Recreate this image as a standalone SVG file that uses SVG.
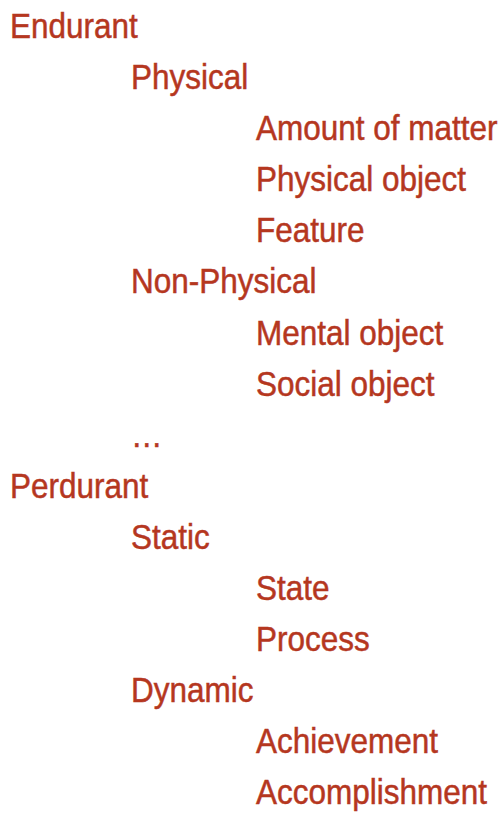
<svg xmlns="http://www.w3.org/2000/svg" width="501" height="813" viewBox="0 0 501 813">
<style>
text{font-family:"Liberation Sans",Arial,sans-serif;font-size:35px;fill:#b5371f;stroke:#b5371f;stroke-width:0.5}
</style>
<rect width="501" height="813" fill="#ffffff"/>
<g transform="scale(0.9,1)">
<g id="endurant"><text x="11.1" y="38">Endurant</text></g>
<g id="physical"><text x="145.6" y="89.1">Physical</text></g>
<g id="amount"><text x="284.4" y="140.2">Amount of matter</text></g>
<g id="physobj"><text x="284.4" y="191.3">Physical object</text></g>
<g id="feature"><text x="284.4" y="242.4">Feature</text></g>
<g id="nonphys"><text x="145.6" y="293.5">Non-Physical</text></g>
<g id="mental"><text x="284.4" y="344.6">Mental object</text></g>
<g id="social"><text x="284.4" y="395.7">Social object</text></g>
<g id="ellipsis"><text x="145.6" y="446.8">…</text></g>
<g id="perdurant"><text x="11.1" y="497.9">Perdurant</text></g>
<g id="static"><text x="145.6" y="549">Static</text></g>
<g id="state"><text x="284.4" y="600.1">State</text></g>
<g id="process"><text x="284.4" y="651.2">Process</text></g>
<g id="dynamic"><text x="145.6" y="702.3">Dynamic</text></g>
<g id="achievement"><text x="284.4" y="753.4">Achievement</text></g>
<g id="accomplishment"><text x="284.4" y="804.5">Accomplishment</text></g>
</g>
</svg>
